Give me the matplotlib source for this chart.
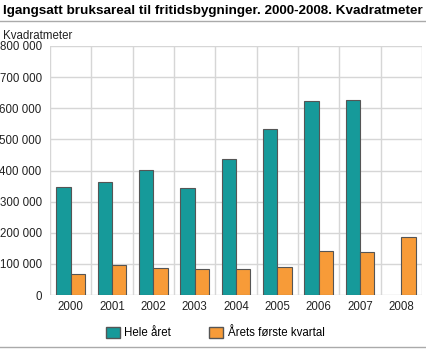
import numpy as np
import matplotlib.pyplot as plt
from matplotlib.patches import Patch
from matplotlib.lines import Line2D

# data
years = ["2000", "2001", "2002", "2003", "2004", "2005", "2006", "2007", "2008"]
hele_aret = [348000, 362000, 401000, 345000, 436000, 533000, 624000, 626000, np.nan]
forste_kvartal = [67000, 96000, 86000, 83000, 83000, 89000, 141000, 138000, 187000]
yticks = [0, 100000, 200000, 300000, 400000, 500000, 600000, 700000, 800000]

TEAL = "#169a9a"
ORANGE = "#f79b38"
EDGE = "#555555"
GRID = "#d6d6d6"

plt.rcParams["font.family"] = ["Liberation Sans", "DejaVu Sans"]

fig = plt.figure(figsize=(4.26, 3.49), dpi=100)
ax = fig.add_axes([50 / 426, 1 - 295 / 349, 372 / 426, 249 / 349])

x = np.arange(len(years))
w = 0.35
ax.bar(x - w / 2, hele_aret, w, color=TEAL, edgecolor=EDGE, linewidth=0.8, zorder=3)
ax.bar(x + w / 2, forste_kvartal, w, color=ORANGE, edgecolor=EDGE, linewidth=0.8, zorder=3)

ax.set_xlim(-0.5, len(years) - 0.5)
ax.set_ylim(0, 800000)
ax.set_yticks(yticks)
ax.set_yticklabels([f"{v:,}".replace(",", " ") for v in yticks])
ax.set_xticks(x)
ax.set_xticklabels(years)
ax.set_xticks(np.arange(-0.5, len(years)), minor=True)
ax.tick_params(axis="both", which="both", length=0, labelsize=8.3, colors="#222222")
ax.tick_params(axis="x", pad=4)
ax.tick_params(axis="y", pad=6)

ax.grid(True, axis="y", color=GRID, linewidth=1.0, zorder=0)
ax.grid(True, axis="x", which="minor", color=GRID, linewidth=1.0, zorder=0)
for s in ax.spines.values():
    s.set_visible(False)

fig.text(3 / 426, 1 - 11 / 349, "Igangsatt bruksareal til fritidsbygninger. 2000-2008. Kvadratmeter",
         fontsize=9.7, fontweight="bold", va="center", ha="left")
fig.add_artist(Line2D([0, 1], [1 - 21 / 349] * 2, color="#aaaaaa", linewidth=1.0))
fig.add_artist(Line2D([0, 1], [1 - 347 / 349] * 2, color="#aaaaaa", linewidth=1.0))
fig.text(3 / 426, 1 - 36 / 349, "Kvadratmeter", fontsize=8.3, va="center", ha="left", color="#222222")

handles = [Patch(facecolor=TEAL, edgecolor=EDGE, label="Hele året"),
           Patch(facecolor=ORANGE, edgecolor=EDGE, label="Årets første kvartal")]
fig.legend(handles=handles, loc="center", bbox_to_anchor=(0.505, 1 - 333 / 349), ncol=2,
           frameon=False, fontsize=8.3, handlelength=1.2, handleheight=1.2,
           handletextpad=0.4, columnspacing=3.3)

fig.savefig("out.png", dpi=100)
